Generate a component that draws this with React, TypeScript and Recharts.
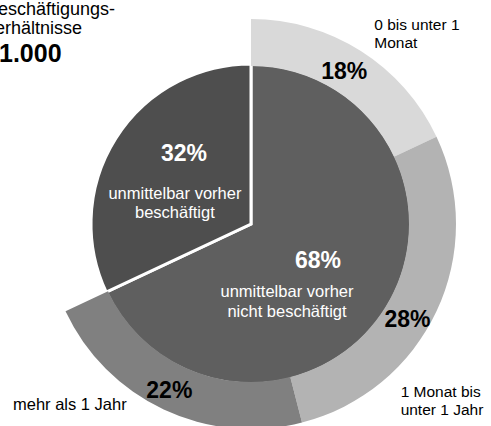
import React from 'react';
import { PieChart, Pie, Cell } from 'recharts';

// inner pie: employed directly before or not
const innerValues = [68, 32];
const innerNames = [
  ['unmittelbar vorher', 'nicht beschäftigt'],
  ['unmittelbar vorher', 'beschäftigt'],
];

// outer ring: duration, only around the "nicht beschäftigt" part
const outerValues = [18, 28, 22];
const outerNames = [['0 bis unter 1', 'Monat'], ['1 Monat bis', 'unter 1 Jahr'], ['mehr als 1 Jahr']];

const titleLines = ['Beschäftigungs-', 'verhältnisse'];
const totalLabel = '1.000';

const innerColors = ['#5f5f5f', '#4e4e4e'];
const outerColors = ['#d9d9d9', '#b3b3b3', '#808080'];

const FONT = '"Liberation Sans", Arial, sans-serif';
const RADIAN = Math.PI / 180;

const innerData = innerValues.map((v, i) => ({ name: innerNames[i].join(' '), value: v }));
const outerData = [
  ...outerValues.map((v, i) => ({ name: outerNames[i].join(' '), value: v })),
  { name: 'rest', value: innerValues[1] },
];

// label placement tweaks (offsets from the polar anchor)
const innerLayout = [
  { radius: 77, pctDx: 2, pctDy: 3, textDx: -29, textDy: 32, lineGap: 20 },
  { radius: 83, pctDx: 3, pctDy: -19, textDx: -6, textDy: 19, lineGap: 19 },
];
const outerLayout = [
  { pctShift: -1, pctRadius: 179, nameShift: 0, nameRadius: 230, anchor: 'start', size: 15.5 },
  { pctShift: 6, pctRadius: 183, nameShift: 24, nameRadius: 229, anchor: 'start', size: 15.5 },
  { pctShift: 1, pctRadius: 185, nameShift: 8.5, nameRadius: 224, anchor: 'end', size: 16.5 },
];

function polar(cx: number, cy: number, r: number, angle: number) {
  return { x: cx + r * Math.cos(-angle * RADIAN), y: cy + r * Math.sin(-angle * RADIAN) };
}

function renderInnerLabel(props: any) {
  const { cx, cy, midAngle, index } = props;
  const l = innerLayout[index];
  const p = polar(cx, cy, l.radius, midAngle);
  return (
    <g>
      <text x={p.x + l.pctDx} y={p.y + l.pctDy} textAnchor="middle" fill="#fff" fontFamily={FONT} fontWeight="bold" fontSize={23}>
        {innerValues[index]}%
      </text>
      {innerNames[index].map((t, i) => (
        <text key={i} x={p.x + l.textDx} y={p.y + l.textDy + i * l.lineGap} textAnchor="middle" fill="#fff" fontFamily={FONT} fontSize={16.5}>
          {t}
        </text>
      ))}
    </g>
  );
}

function renderOuterLabel(props: any) {
  const { cx, cy, midAngle, index } = props;
  if (index >= outerValues.length) return null;
  const l = outerLayout[index];
  const p = polar(cx, cy, l.pctRadius, midAngle - l.pctShift);
  const n = polar(cx, cy, l.nameRadius, midAngle - l.nameShift);
  return (
    <g>
      <text x={p.x} y={p.y + 8} textAnchor="middle" fill="#000" fontFamily={FONT} fontWeight="bold" fontSize={23}>
        {outerValues[index]}%
      </text>
      {outerNames[index].map((t, i) => (
        <text key={i} x={n.x} y={n.y + i * 18} textAnchor={l.anchor as any} fill="#000" fontFamily={FONT} fontSize={l.size}>
          {t}
        </text>
      ))}
    </g>
  );
}

export default function App() {
  return (
    <div style={{ position: 'fixed', left: 0, top: 0, width: 491, height: 426, overflow: 'hidden', background: '#fff' }}>
      <PieChart width={491} height={426} margin={{ top: 0, right: 0, bottom: 0, left: 0 }}>
        <Pie
          data={innerData}
          dataKey="value"
          cx={251}
          cy={224}
          startAngle={90}
          endAngle={-270}
          innerRadius={0}
          outerRadius={160}
          stroke="#fff"
          strokeWidth={3}
          label={renderInnerLabel}
          labelLine={false}
          isAnimationActive={false}
        >
          {innerData.map((_, i) => (
            <Cell key={i} fill={innerColors[i]} />
          ))}
        </Pie>
        <Pie
          data={outerData}
          dataKey="value"
          cx={251}
          cy={224}
          startAngle={90}
          endAngle={-270}
          innerRadius={158}
          outerRadius={205}
          stroke="none"
          label={renderOuterLabel}
          labelLine={false}
          isAnimationActive={false}
        >
          {outerData.map((_, i) => (
            <Cell key={i} fill={i < outerColors.length ? outerColors[i] : 'transparent'} />
          ))}
        </Pie>
      </PieChart>
      <div style={{ position: 'absolute', left: -14, top: 0, fontFamily: FONT, color: '#000', lineHeight: '19px', fontSize: 18 }}>
        {titleLines.map((t) => (
          <div key={t}>{t}</div>
        ))}
      </div>
      <div style={{ position: 'absolute', left: -1, top: 40, fontFamily: FONT, color: '#000', fontSize: 25, fontWeight: 'bold', lineHeight: '26px' }}>
        {totalLabel}
      </div>
    </div>
  );
}
